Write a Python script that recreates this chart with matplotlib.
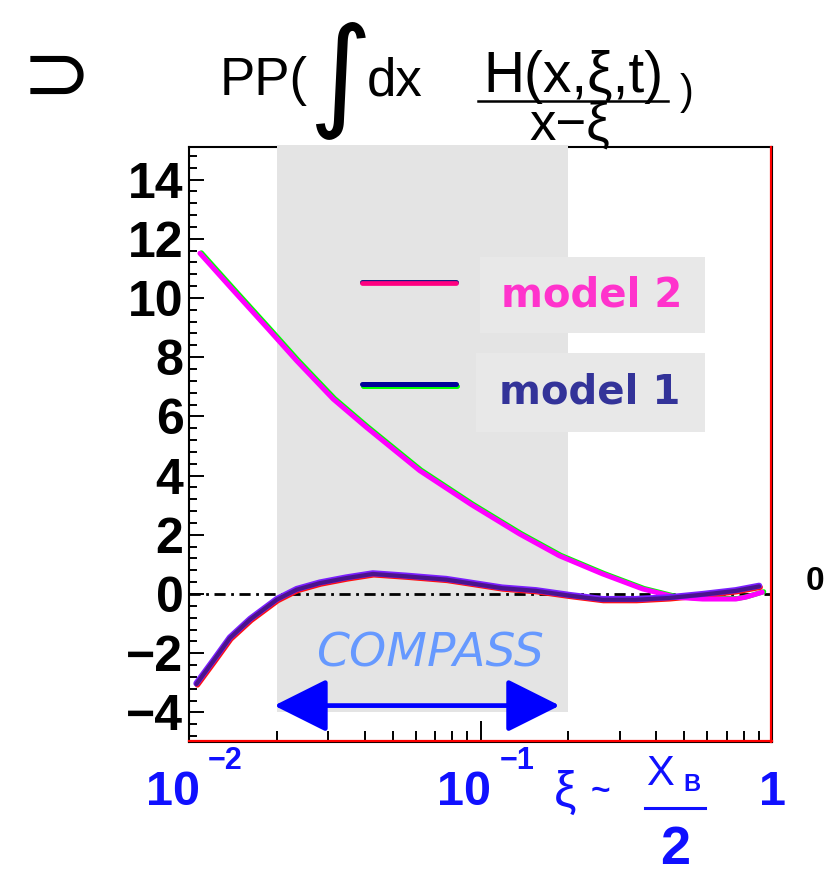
import matplotlib
matplotlib.use("Agg")
import matplotlib.pyplot as plt
from matplotlib.patches import Rectangle
from matplotlib.lines import Line2D
from matplotlib.ticker import FixedLocator, NullFormatter
import matplotlib.transforms as mtransforms
import numpy as np

plt.rcParams['font.family'] = ['Liberation Sans', 'DejaVu Sans']

# real part of the CFF  ~  PP integral of H(x, xi, t) / (x - xi)
xi_model2 = [0.0109, 0.0142, 0.0189, 0.0234, 0.0312, 0.0406, 0.0618, 0.0930,
             0.136, 0.1865, 0.262, 0.360, 0.468, 0.577, 0.751, 0.81, 0.926]
re_model2 = [11.51, 10.25, 8.90, 7.88, 6.59, 5.63, 4.17, 3.02,
             2.03, 1.29, 0.68, 0.17, -0.11, -0.17, -0.17, -0.11, 0.06]

xi_model1 = [0.0106, 0.0121, 0.0138, 0.0162, 0.0200, 0.0234, 0.0281, 0.0346,
             0.0427, 0.0557, 0.0763, 0.0917, 0.1186, 0.155, 0.2016, 0.262,
             0.3405, 0.4437, 0.577, 0.751, 0.9035]
re_model1 = [-3.02, -2.25, -1.47, -0.84, -0.17, 0.17, 0.39, 0.56,
             0.70, 0.62, 0.51, 0.39, 0.22, 0.13, -0.03, -0.17,
             -0.17, -0.11, 0.0, 0.13, 0.28]

compass_range = [0.02, 0.2]      # xi range covered by COMPASS
compass_arrow = [0.0196, 0.187]
xlim = [0.01, 1.0]
ylim = [-5.0, 15.1]
xtick_vals = [0.01, 0.1, 1.0]
xtick_base = ['10', '10', '1']
xtick_exp = ['\u22122', '\u22121', '']

W, H = 831, 875
fig = plt.figure(figsize=(W / 100, H / 100), dpi=100)
ax = fig.add_axes([189 / W, 1 - 742 / H, 583 / W, 595 / H])

def fx(px):
    return px / W

def fy(py):
    return 1 - py / H

ax.set_xscale('log')
ax.set_xlim(xlim)
ax.set_ylim(ylim)

# grey band for the COMPASS kinematic range
ax.axvspan(compass_range[0], compass_range[1],
           ymin=(-4 - ylim[0]) / (ylim[1] - ylim[0]), ymax=1.004,
           color='#e4e4e4', lw=0, zorder=2.6, clip_on=False)

ax.axhline(0, color='black', lw=2.0, ls=(0, (4.0, 2.0, 1.0, 2.0)), zorder=3)

def shifted(dx, dy):
    return mtransforms.offset_copy(ax.transData, fig=fig, x=dx, y=dy, units='dots')

# model 2
ax.plot(xi_model2, re_model2, color='#00ff00', lw=3.6, transform=shifted(1.5, 0.5),
        zorder=4, solid_capstyle='round')
ax.plot(xi_model2, re_model2, color='#ff00ff', lw=3.6, zorder=5, solid_capstyle='round')

# model 1
ax.plot(xi_model1, re_model1, color='#ff1010', lw=4, transform=shifted(1, -1.5),
        zorder=4, solid_capstyle='round')
ax.plot(xi_model1, re_model1, color='#7b1fff', lw=4.4, zorder=5, solid_capstyle='round')
ax.plot(xi_model1, re_model1, color='#4a148c', lw=3.0, transform=shifted(0, -0.7),
        zorder=6, solid_capstyle='round')

# legend
ta = ax.transAxes
off = lambda dx, dy: mtransforms.offset_copy(ta, fig=fig, x=dx, y=dy, units='dots')
lx = [(362 - 189) / 583, (456 - 189) / 583]
ly2 = (742 - 283) / 595
ly1 = (742 - 384) / 595
ax.plot(lx, [ly2, ly2], color='#1a1a80', lw=3.6, transform=off(0, 1.2), zorder=6,
        solid_capstyle='round', clip_on=False)
ax.plot(lx, [ly2, ly2], color='#ff0080', lw=3.4, transform=ta, zorder=7,
        solid_capstyle='round', clip_on=False)
ax.plot(lx, [ly1, ly1], color='#00ff00', lw=3.6, transform=off(1, -2.5), zorder=6,
        solid_capstyle='round', clip_on=False)
ax.plot(lx, [ly1, ly1], color='#000099', lw=3.6, transform=ta, zorder=7,
        solid_capstyle='round', clip_on=False)

ax.add_patch(Rectangle(((480 - 189) / 583, (742 - 333) / 595), 225 / 583, 76 / 595,
                       transform=ta, color='#e8e8e8', lw=0, zorder=6))
ax.add_patch(Rectangle(((476 - 189) / 583, (742 - 432) / 595), 229 / 583, 79 / 595,
                       transform=ta, color='#e8e8e8', lw=0, zorder=6))
ax.text((592 - 189) / 583, (742 - 296) / 595, 'model 2', transform=ta, ha='center',
        va='center', fontsize=29, fontweight='bold', color='#ff33cc',
        family='DejaVu Sans', zorder=8)
ax.text((590 - 189) / 583, (742 - 393) / 595, 'model 1', transform=ta, ha='center',
        va='center', fontsize=29, fontweight='bold', color='#333399',
        family='DejaVu Sans', zorder=8)

# COMPASS label and arrow
ax.text((430 - 189) / 583, (742 - 654) / 595, 'COMPASS', transform=ta, ha='center',
        va='center', fontsize=34, style='oblique', color='#6699ff',
        family='DejaVu Sans', zorder=8)
ax.annotate('', xy=(compass_arrow[1], -3.77), xytext=(compass_arrow[0], -3.77),
            arrowprops=dict(arrowstyle='<|-|>,head_length=33,head_width=16.5',
                            mutation_scale=1, color='#0000ff', lw=3.4,
                            shrinkA=0, shrinkB=0), zorder=8)

# axes frame: black left/top, red bottom/right
for s in ax.spines.values():
    s.set_linewidth(1.5)
    s.set_color('black')
    s.set_zorder(2.5)
ax.plot([0, 1], [0, 0], color='#ff0000', lw=1.6, transform=off(0, 1.5), clip_on=False, zorder=9)
ax.plot([1, 1], [0, 1], color='#ff0000', lw=1.6, transform=off(-1.5, 0), clip_on=False, zorder=9)

# y axis
ax.yaxis.set_major_locator(FixedLocator(np.arange(-4, 15, 2)))
ax.yaxis.set_minor_locator(FixedLocator(np.arange(-4.8, 15.1, 0.4)))
ax.tick_params(axis='y', which='major', direction='in', length=10.8, width=1.4,
               pad=4, labelsize=36, right=False)
ax.tick_params(axis='y', which='minor', direction='in', length=5.8, width=1.4, right=False)
ax.set_yticklabels(['\u22124' if v == -4 else '\u22122' if v == -2 else str(int(v))
                    for v in np.arange(-4, 15, 2)], fontweight='bold')

# x axis (log): labels drawn on a common baseline, exponent raised
ax.xaxis.set_major_locator(FixedLocator(xtick_vals))
ax.xaxis.set_minor_locator(FixedLocator(list(np.arange(0.02, 0.1, 0.01)) +
                                        list(np.arange(0.2, 1.0, 0.1))))
ax.xaxis.set_major_formatter(NullFormatter())
ax.xaxis.set_minor_formatter(NullFormatter())
ax.tick_params(axis='x', which='major', direction='in', length=15, width=1.4, top=False)
ax.tick_params(axis='x', which='minor', direction='in', length=8, width=1.4, top=False)

blue = '#1010ff'
xlab_tr = mtransforms.blended_transform_factory(ax.transData, ax.transAxes)
for xv, base, ex in zip(xtick_vals, xtick_base, xtick_exp):
    if ex:
        ax.text(xv, -0.106, base, ha='right', va='baseline', fontsize=35,
                fontweight='bold', color=blue, clip_on=False,
                transform=xlab_tr + mtransforms.ScaledTranslation(11 / 100, 0, fig.dpi_scale_trans))
        ax.text(xv, -0.106, ex, ha='left', va='baseline', fontsize=22,
                fontweight='bold', color=blue, clip_on=False,
                transform=xlab_tr + mtransforms.ScaledTranslation(19 / 100, 36 / 100, fig.dpi_scale_trans))
    else:
        ax.text(xv, -0.106, base, ha='center', va='baseline', fontsize=35,
                fontweight='bold', color=blue, clip_on=False, transform=xlab_tr)

# xi ~ x_B / 2
fig.text(fx(565), fy(806), '\u03be', ha='center', va='baseline', fontsize=36, color=blue)
fig.text(fx(600), fy(800), '~', ha='center', va='baseline', fontsize=24, color=blue,
         fontweight='bold')
fig.text(fx(660), fy(785), 'X', ha='center', va='baseline', fontsize=30, color=blue)
fig.text(fx(692), fy(791), 'B', ha='center', va='baseline', fontsize=17, color=blue,
         fontweight='bold')
fig.add_artist(Line2D([fx(645), fx(705)], [fy(808), fy(808)], color=blue, lw=2.2))
fig.text(fx(675), fy(864), '2', ha='center', va='baseline', fontsize=39, color=blue,
         fontweight='bold')

# right-hand zero marker
fig.text(fx(815), fy(581), '0', ha='center', va='center', fontsize=24,
         fontweight='bold', color='black')

# header: contains PP( int dx H(x,xi,t) / (x - xi) )
fig.text(fx(57), fy(77), '\u2283', ha='center', va='center', fontsize=60,
         family='DejaVu Sans', color='black')
fig.text(fx(220), fy(95), 'PP(', ha='left', va='baseline', fontsize=38)
fig.text(fx(340), fy(80), '\u222b', ha='center', va='center', fontsize=88,
         family='DejaVu Sans')
fig.text(fx(367), fy(95), 'dx', ha='left', va='baseline', fontsize=38)
fig.text(fx(573), fy(92), 'H(x,\u03be,t)', ha='center', va='baseline', fontsize=41)
fig.add_artist(Line2D([fx(478), fx(668)], [fy(101), fy(101)], color='black', lw=1.8))
fig.text(fx(687), fy(93), ')', ha='center', va='center', fontsize=30)
fig.text(fx(570), fy(139), 'x\u2212\u03be', ha='center', va='baseline', fontsize=38)

fig.savefig('out.png', dpi=100)
